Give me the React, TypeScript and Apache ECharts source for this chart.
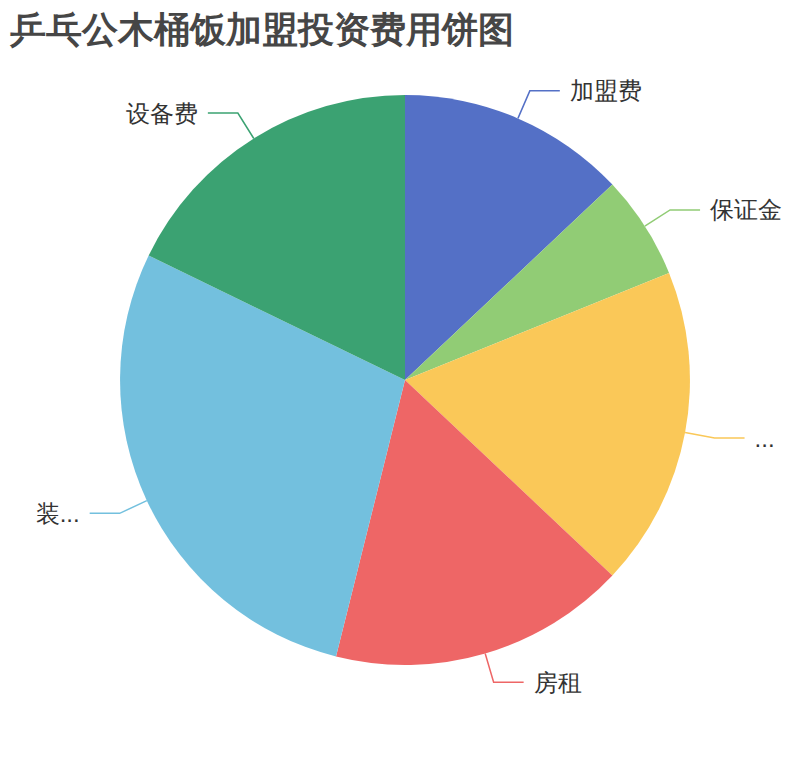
import { useEffect, useRef } from "react";
import * as echarts from "echarts";

const titleText = "乒乓公木桶饭加盟投资费用饼图";
const names = ["加盟费", "保证金", "首批进货费", "房租", "装修费", "设备费"];
const values = [2.2, 1, 3.08, 2.86, 4.8, 3.02];
const colors = ["#5470c6", "#91cc75", "#fac858", "#ee6666", "#73c0de", "#3ba272"];

const App = () => {
  const chartRef = useRef<HTMLDivElement>(null);

  useEffect(() => {
    if (!chartRef.current) return;
    const chart = echarts.init(chartRef.current, undefined, { renderer: "svg" });

    const option: echarts.EChartsOption = {
      animation: false,
      color: colors,
      title: {
        text: titleText,
        left: 2,
        top: 1,
        padding: 0,
        textStyle: {
          color: "#464646",
          fontSize: 36,
          fontWeight: "bold",
          lineHeight: 40,
        },
      },
      series: [
        {
          type: "pie",
          radius: "76.6%",
          center: ["50%", "50%"],
          startAngle: 90,
          data: names.map((name, i) => ({ name, value: values[i] })),
          itemStyle: { borderWidth: 0 },
          label: {
            show: true,
            position: "outer",
            color: "#333",
            fontSize: 24,
            distanceToLabelLine: 10,
            bleedMargin: 10,
          },
          labelLine: {
            show: true,
            length: 30,
            length2: 30,
            lineStyle: { width: 1.5 },
          },
        },
      ],
    };

    chart.setOption(option);
    return () => {
      chart.dispose();
    };
  }, []);

  return <div ref={chartRef} style={{ width: "100%", height: "744px" }} />;
};

export default App;
